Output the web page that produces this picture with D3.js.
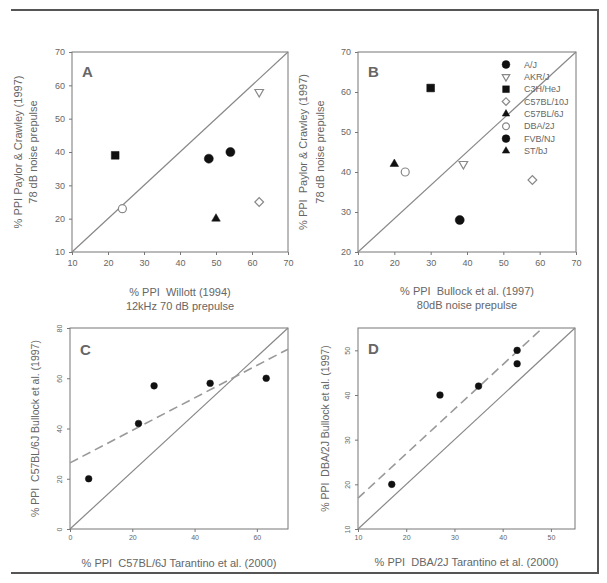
<!DOCTYPE html>
<html>
<head>
<meta charset="utf-8">
<script src="https://cdn.jsdelivr.net/npm/d3@7"></script>
<style>
  body { margin: 0; background: #fff; }
  text { font-family: "Liberation Sans", Arial, sans-serif; fill: #666; white-space: pre; }
</style>
</head>
<body>
<div id="chart"></div>
<script>
// strains (legend order in panel B)
var strains = ["A/J", "AKR/J", "C3H/HeJ", "C57BL/10J", "C57BL/6J", "DBA/2J", "FVB/NJ", "ST/bJ"];

// panel A: Willott (1994) vs Paylor & Crawley (1997), null = not tested
var willottA = [48, 62, 22, 62, 50, 24, 54, null];
var paylorA  = [38, 58, 39, 25, 20, 23, 40, null];

// panel B: Bullock et al. (1997) vs Paylor & Crawley (1997)
var bullockB = [38, 39, 30, 58, null, 23, null, 20];
var paylorB  = [28, 42, 61, 38, null, 40, null, 42];

// panel C: C57BL/6J Tarantino (2000) vs Bullock (1997)
var tarantinoC57 = [6, 22, 27, 45, 63];
var bullockC57   = [20, 42, 57, 58, 60];

// panel D: DBA/2J Tarantino (2000) vs Bullock (1997)
var tarantinoDBA = [17, 27, 35, 43, 43];
var bullockDBA   = [20, 40, 42, 50, 47];

// ticks
var ticksA_x = [10, 20, 30, 40, 50, 60, 70], ticksA_y = [10, 20, 30, 40, 50, 60, 70];
var ticksB_x = [10, 20, 30, 40, 50, 60, 70], ticksB_y = [20, 30, 40, 50, 60, 70];
var ticksC_x = [0, 20, 40, 60], ticksC_y = [0, 20, 40, 60, 80];
var ticksD_x = [10, 20, 30, 40, 50], ticksD_y = [10, 20, 30, 40, 50];

var width = 607, height = 583;

var svg = d3.select("#chart").append("svg")
  .attr("width", width)
  .attr("height", height);

// outer frame (top, right, bottom)
svg.append("path")
  .attr("d", "M11,10 H598 V573 H11")
  .attr("fill", "none")
  .attr("stroke", "#555")
  .attr("stroke-width", 2);

// marker style for each strain
var shape = d3.scaleOrdinal().domain(strains)
  .range(["circle", "down", "square", "diamond", "triangle", "ocircle", "circle", "triangle"]);

function marker(sel, kind, scale) {
  var k = scale || 1;
  var types = {
    circle:   [d3.symbolCircle, 64, 0, true],
    ocircle:  [d3.symbolCircle, 50, 0, false],
    square:   [d3.symbolSquare, 60, 0, true],
    diamond:  [d3.symbolSquare, 38, 45, false],
    triangle: [d3.symbolTriangle, 32, 0, true],
    down:     [d3.symbolTriangle, 32, 180, false]
  };
  var t = types[kind];
  sel.attr("d", d3.symbol().type(t[0]).size(t[1] * k)())
    .attr("fill", t[3] ? "#111" : "#fff")
    .attr("stroke", t[3] ? "#111" : "#888")
    .attr("stroke-width", t[3] ? 0.5 : 1.2);
  return t[2];
}

function panel(opt) {
  var x = d3.scaleLinear().domain(opt.xd).range([opt.x0, opt.x1]);
  var y = d3.scaleLinear().domain(opt.yd).range([opt.y1, opt.y0]);
  var g = svg.append("g");

  // axes
  var xa = g.append("g").attr("transform", "translate(0," + opt.y1 + ")")
    .call(d3.axisBottom(x).tickValues(opt.xt).tickSize(3).tickPadding(opt.small ? 3 : 5));
  var ya = g.append("g").attr("transform", "translate(" + opt.x0 + ",0)")
    .call(d3.axisLeft(y).tickValues(opt.yt).tickSize(3).tickPadding(opt.small ? 3 : 4));
  [xa, ya].forEach(function(a) {
    a.select(".domain").remove();
    a.selectAll("line").attr("stroke", "#777");
    a.selectAll("text").style("font-size", opt.small ? "7px" : "9px").attr("fill", "#777");
  });
  if (opt.small) {
    ya.selectAll("text")
      .attr("text-anchor", "middle")
      .attr("dy", null)
      .attr("transform", "translate(-8,0) rotate(-90)")
      .attr("x", 0).attr("y", 0);
  }

  // plot box
  g.append("rect")
    .attr("x", opt.x0).attr("y", opt.y0)
    .attr("width", opt.x1 - opt.x0).attr("height", opt.y1 - opt.y0)
    .attr("fill", "none").attr("stroke", "#777").attr("stroke-width", 1);

  // corner-to-corner reference line
  g.append("line")
    .attr("x1", x(opt.xd[0])).attr("y1", y(opt.yd[0]))
    .attr("x2", x(opt.xd[1])).attr("y2", y(opt.yd[1]))
    .attr("stroke", "#888").attr("stroke-width", 1.2);

  // regression line (dashed)
  if (opt.fit) {
    var xs = opt.xs, ys = opt.ys;
    var mx = d3.mean(xs), my = d3.mean(ys);
    var sxy = d3.sum(xs, function(v, i) { return (v - mx) * (ys[i] - my); });
    var sxx = d3.sum(xs, function(v) { return (v - mx) * (v - mx); });
    var b = sxy / sxx, a = my - b * mx;
    var xa0 = opt.xd[0], xa1 = opt.xd[1];
    if (a + b * xa1 > opt.yd[1]) xa1 = (opt.yd[1] - a) / b;
    g.append("line")
      .attr("x1", x(xa0)).attr("y1", y(a + b * xa0))
      .attr("x2", x(xa1)).attr("y2", y(a + b * xa1))
      .attr("stroke", "#999").attr("stroke-width", 1.6)
      .attr("stroke-dasharray", "9,5");
  }

  // points
  opt.xs.forEach(function(v, i) {
    if (v == null || opt.ys[i] == null) return;
    var kind = opt.kinds ? shape(strains[i]) : "circle";
    var p = g.append("path");
    var rot = marker(p, kind, opt.kinds ? 1 : 0.55);
    p.attr("transform", "translate(" + x(v) + "," + y(opt.ys[i]) + ") rotate(" + rot + ")");
  });

  // panel letter
  g.append("text")
    .attr("x", opt.lx).attr("y", opt.ly)
    .text(opt.letter)
    .style("font-size", "15px").style("font-weight", "bold").attr("fill", "#222");

  // x label(s)
  opt.xlab.forEach(function(t, i) {
    g.append("text")
      .attr("x", (opt.x0 + opt.x1) / 2).attr("y", opt.xly + i * 14)
      .attr("text-anchor", "middle").attr("dy", "0.35em")
      .style("font-size", "11px")
      .text(t);
  });
  // y label(s)
  opt.ylab.forEach(function(t, i) {
    g.append("text")
      .attr("transform", "translate(" + opt.ylx[i] + "," + (opt.y0 + opt.y1) / 2 + ") rotate(-90)")
      .attr("text-anchor", "middle").attr("dy", "0.35em")
      .style("font-size", opt.small ? "10.5px" : "11px")
      .text(t);
  });
  return { x: x, y: y };
}

panel({
  letter: "A", lx: 82, ly: 77,
  x0: 72, x1: 288, y0: 52, y1: 252, xd: [10, 70], yd: [10, 70],
  xt: ticksA_x, yt: ticksA_y, xs: willottA, ys: paylorA, kinds: true,
  xlab: ["% PPI  Willott (1994)", "12kHz 70 dB prepulse"], xly: 292,
  ylab: ["% PPI Paylor & Crawley (1997)", "78 dB noise prepulse"], ylx: [18, 33]
});

panel({
  letter: "B", lx: 368, ly: 77,
  x0: 358, x1: 576, y0: 52, y1: 252, xd: [10, 70], yd: [20, 70],
  xt: ticksB_x, yt: ticksB_y, xs: bullockB, ys: paylorB, kinds: true,
  xlab: ["% PPI  Bullock et al. (1997)", "80dB noise prepulse"], xly: 291,
  ylab: ["% PPI  Paylor & Crawley (1997)", "78 dB noise prepulse"], ylx: [303, 320]
});

panel({
  letter: "C", lx: 80, ly: 355, small: true, fit: true,
  x0: 70, x1: 288, y0: 328, y1: 529, xd: [0, 70], yd: [0, 80],
  xt: ticksC_x, yt: ticksC_y, xs: tarantinoC57, ys: bullockC57,
  xlab: ["% PPI  C57BL/6J Tarantino et al. (2000)"], xly: 563,
  ylab: ["% PPI  C57BL/6J Bullock et al. (1997)"], ylx: [35]
});

panel({
  letter: "D", lx: 368, ly: 354, small: true, fit: true,
  x0: 358, x1: 575, y0: 328, y1: 529, xd: [10, 55], yd: [10, 55],
  xt: ticksD_x, yt: ticksD_y, xs: tarantinoDBA, ys: bullockDBA,
  xlab: ["% PPI  DBA/2J Tarantino et al. (2000)"], xly: 562,
  ylab: ["% PPI  DBA/2J Bullock et al. (1997)"], ylx: [325]
});

// legend in panel B
var legend = svg.append("g");
strains.forEach(function(s, i) {
  var yy = 64.5 + i * 12.35;
  var p = legend.append("path");
  var rot = marker(p, shape(s), 0.75);
  p.attr("transform", "translate(506," + yy + ") rotate(" + rot + ")");
  legend.append("text")
    .attr("x", 524).attr("y", yy).attr("dy", "0.35em")
    .style("font-size", "9px")
    .text(s);
});
</script>
</body>
</html>
